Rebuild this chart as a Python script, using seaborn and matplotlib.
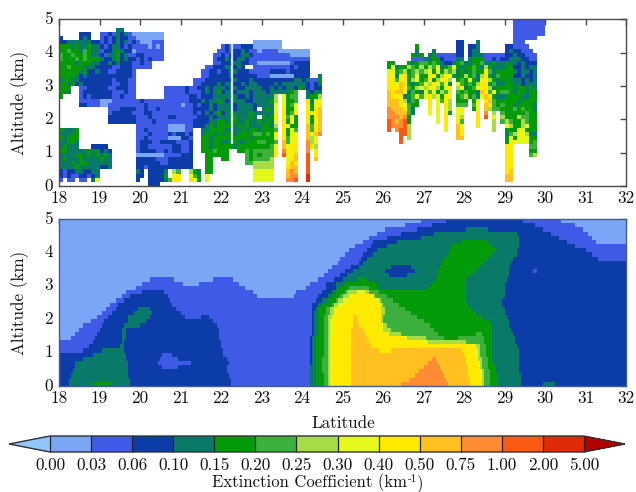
import numpy as np
import matplotlib
matplotlib.use("Agg")
import matplotlib.pyplot as plt
import seaborn as sns
from matplotlib.cm import ScalarMappable
from matplotlib.colorbar import Colorbar
from matplotlib.colors import BoundaryNorm, ListedColormap

# extinction bins, one letter per bin (a = 0.00-0.03 ... m = 2.00-5.00)
levels = [0.00, 0.03, 0.06, 0.10, 0.15, 0.20, 0.25, 0.30, 0.40, 0.50, 0.75, 1.00, 2.00, 5.00]
letters = "abcdefghijklm"
colours = ["#7BA6F6", "#3F5AE6", "#0C3CA8", "#0A7A68", "#049A0A", "#3CB03C", "#A6DC48",
           "#E4F81C", "#FFEA00", "#FFC020", "#FF8C34", "#F85A14", "#E02A08"]
under_colour = "#93C6F8"
over_colour = "#B00000"

lat_ticks = list(range(18, 33))
alt_ticks = [0, 1, 2, 3, 4, 5]
bar_labels = ["0.00", "0.03", "0.06", "0.10", "0.15", "0.20", "0.25", "0.30", "0.40", "0.50",
              "0.75", "1.00", "2.00", "5.00"]

# narrow missing column in the lidar curtain: latitude, lowest and highest altitude
gap_lat = 22.27
gap_alt = [1.25, 4.25]

# lidar curtain, 0.1 deg x 0.125 km, written from 5 km down, one word per degree
# 18.0 - 24.6
lidar_west = [
    ". . . . . . .",
    ". . . . . . .",
    ". ....dd . . . . .",
    ".....ccc bbcbdcdbaa aaaaaa . . . .",
    "c....cdc bcbcdccbba aaaaaa . . . .",
    "ccddddddcc bcbcdcdbcb aaabbb . ........aa aaaaa .",
    "eeededdedd cbcddcbcbb bbabab . bcbbbcccaa aaaaa .",
    "eefeedfedd bccdedccab bbbbbb .........b bcbccdcbba bbbbaaaaaa aa",
    "feefeefedd cbddecdbbc cbbbbb ........bb cbcccddcbb bbbbbbbaaa aa",
    "feeefefeee dccdecdccb cbcbbb ........bc cdccddcbbb bbbbbbbbbb bb",
    "eeeedeeedd ccdcdcccbb cbb ........bb cccddccbba aaaaaaabcc cc",
    "eefeeedddc cccbbcccbb bbb ......bbcc cddcdc..bb bbbbbbbcbc cc",
    "eeeeedeccd ccbbccccb. . .....bbccb ccddcccbbb bbccccbccc cc",
    "eeeedcdccc ccccccccb. . .....bbccc ccdccccccb bbaaaaaacc cc..d",
    "deeddccccc cccbcccbb. . ...bbbcccc cccdcccdcc ccccccccdd cdbbe",
    "eedecdcccc cccbbccbb. . ...bbccccd cddccdcddc cccdcddddd dcbcd",
    "eee..bbccc ccbbcccbb. ......bbbb bcbbccdcdd dcddccdddd ccdcdcddce dcbcc",
    "eed..bcccc cccbbbcbb. ......bbbb bcbbbcdcde cddcdddcdd dcdddddef. .dcdd",
    "e....bcbcc cccbbcbbb. ......bbbb bbccbcccdd ddddccdcdd dddg.heff. .deeg",
    ".....bbbbb aaabbbbbbb cbbbbbbbbb bbcccdcdde dcddddccdd ddeg.heef. .idhh",
    ".....ccbbb aabbbbbbbb bcbbbbbbbb abbcbccdcd dddcddddcd dddh.hefh. .iehi",
    ". ..bbbccccb bcbbcbbbbb bbbccccdcd dddcddddc dedh.ieeh. .ieij",
    ". ..bcccccbb bccbbbbbbb bbbcbcdcde cdeddddedd dddh.iefi. .ihij",
    ". ..cccccccb bbcbbbbccb bbbbcccdcd dddeddded edei.ifhe. .ieij",
    ". ..cccccccb bbbcbbbbbb bbbccccdde edeeddedde dedh.ieie. .iehj",
    ". .........b bbbbbbbaaa abbcccdede eeedededdd eedg.ihee. .jfij",
    "eddde .........b bcbbbbbaaa abb..ddeee eddddedeed eeef.iehf. .jfij",
    "dddee .........b bbcbbbbcbc cbc..deede deedeeeeff efei.iehh. .jhjk",
    "edeee .........b bcbbbbbaaa ccb..eedee eeeeeeedee eeeh.ifhi. .jgh",
    "ddeed .........b cccbbccccb bbc..eedee ddeeddeeef feef.jfhi. .kgh",
    "deddd...cc cc.......b ccbbbbbbcc bbc..eedee eeedeeeeee eefh.jhii. .kig",
    "eedddddede cdc......b ccccbbcbcc bbc..eeefe ee..eefeff fffi.kihi. .k.i",
    "ddddeedede ded......a aaaaaabbbb ccc...eeee ee....fefe fffi.lhij. .l.i",
    "dedddedddd edd......c ccccbbbccc ccc...ee.. ee....feff ffg...hij. .l.j",
    "dddedeeddd ddd......c cccccbbccc ccc...ee.. ......ffgg ggg...hji. .l",
    "ddddeddddd ccd......c cbcccccccc ccc...ee.. ........gg ggg...ijj. .l",
    "cbccddccdd .........d c.ccccd.gf ..ged.ee.. ........hh hhh...jkj. .l",
    "cbcbbccbcd .........c c.cccce.hi ..hfe.h... ........hh hhh...jkk. .m",
    "b.bb.bb.dh .........c ..ccccdfii ..ihe.h... ........hh hhh...kkl. .m",
    ". . ..ccc . . . .",
]

# 26.0 - 30.0
lidar_east = [
    ". . . ..bbbbbbbb",
    ". . . ..bbbbbbbb",
    ". . . ..bbbbbbbb",
    ". . . ..bbbbbbbb",
    ". . . ..bbbbbb",
    ". ........cc ...d ..bbb",
    "........e. ........cc .ccd ccbbbb",
    "........d. ..d.....cc .cdd cdccbbb",
    ".......ede .debbbbbcc .cdddbbbbb ccdccbbb",
    ".......bbb ddeecbbbdd .deeebbcbc cdddccbb",
    ".ee...edef fefedccdef ddeefddedd eddcdccc",
    ".ehdeegfeg egfhdefhed eefedgeddd eeccdcdd",
    ".hiefgefgf ghehegfgde defeeifdee eedcddcd",
    ".ihdhiefhe ehiegihede gefdgiedfe eeccdccd",
    ".iifiieghe fieghig.ef ehedhigede edddcdcd",
    ".iihjiedef hgihfhe.hf efegiiefdd eeddcddd",
    ".iiijhfegh gihgehi.gh defhiigdee eedeeded",
    ".jijjhdfed hfhegfh.fe feedjifhef fedeedee",
    ".jiiidefhf higheih.ef gefdhjiedd eeeeddee",
    ".jjjigdfe. .i.hfig.ee e.eh.ijfee eeedeeee",
    ".jjjihfee. .i.h.ig.ff f.fh.jifef eedeeeed",
    ".kjjjifd.. .h.i.hg.hi ..eh.jgffe eefefeed",
    ".kkjjjfd.. .h.h.ie.hh ...i.k.g.f eeeeefee",
    ".kkkjke... ...h.i..ig ...i.l.h.g eeegffee",
    ".lkjkle... ...h.i..if ...i...g.f gfeegfee",
    ".lkkklg... .....i..jh ...i...g.. hgeeghee",
    ".l.kllg... .....h..ji .......g.. eeehheee",
    "....llg... ........ji . dfghhgdd",
    "....l.g... ........jj . eheihhee",
    "....l . . eihhhhef",
    ". . . ii....ff",
    ". . . ii....ee",
    ". . . ii....fg",
    ". . . ii",
    ". . . ii",
    ". . . ii",
    ". . . ij",
    ". . . jj",
    ". . . jj",
    ". . . .",
]

# model field: 0.125 km rows from 5 km down, each run is bin letter + latitude where it ends
model_rows = [
    "a26.95 b27.55 c29.45 b30.42 a32",
    "a26.55 b27.2 c29.75 b30.75 a32",
    "a26.05 b26.85 c28.05 d28.6 c29.95 b30.95 a32",
    "a25.85 b26.45 c27.25 d29.3 c30.15 b31.05 a32",
    "a25.65 b26.1 c26.95 d29.37 c30.35 b31.15 a32",
    "a25.5 b25.76 c26.33 d27.95 e28.6 d29.37 c30.55 b31.27 a32",
    "a25.28 b25.7 c26.1 d27.72 e28.7 d29.35 c30.75 b32",
    "a25.15 b25.6 c25.85 d27.65 e28.82 d29.3 c30.98 b32",
    "a25.05 b25.5 c25.75 d27.58 e28.72 d29.28 c31.15 b32",
    "a24.95 b25.45 c25.6 d27.5 e28.6 d29.22 c31.3 b32",
    "a24.9 b25.38 c25.5 d27.44 e28.5 d29.17 c32",
    "a24.77 b25.2 c25.4 d26.2 c26.7 d27.4 e28.38 d29.12 c32",
    "a24.65 b25.07 c25.25 d26.05 c26.78 d27.37 e28.28 d29.1 c29.7 b29.8 c32",
    "a24.53 b24.93 c25.12 d26.15 c26.6 d27.33 e28.15 d29.08 c32",
    "a20.25 b20.85 a21.8 b22.3 a24.4 b24.78 c25.0 d25.35 e25.6 d27.28 e28.05 d29.05 c32",
    "a20.05 b21.05 a21.45 b22.45 a24.2 b24.6 c24.87 d25.05 e25.85 d27.22 e28.03 d29.02 c32",
    "a19.88 b22.6 a24.12 b24.6 c24.87 d24.95 e25.15 f25.65 e25.87 d27.1 e28.03 d29.0 c32",
    "a19.65 b20.05 c20.6 b22.8 a23.85 b24.5 c24.76 d24.86 e25.05 f25.1 g25.33 h25.55 g25.65 f25.9 e28.03 d29.0 c32",
    "a19.53 b19.75 c20.68 b22.9 a23.78 b24.42 c24.64 d24.75 e24.95 f25.0 g25.15 h25.27 i25.68 h25.75 g25.82 f26.1 e28.03 d28.98 c32",
    "a19.38 b19.62 c20.74 b24.35 c24.52 d24.63 e24.85 f24.9 g25.0 h25.1 i25.82 h25.88 g25.95 f26.27 e28.03 d28.97 c32",
    "a19.27 b19.45 c20.82 b24.25 c24.4 d24.5 e24.73 f24.78 g24.92 h25.0 i25.9 h25.93 g26.0 f26.42 e28.1 d28.97 c32",
    "a19.17 b19.38 c19.95 d20.27 c20.92 b24.25 c24.33 d24.42 e24.62 f24.72 g24.8 h24.9 i25.93 g26.05 f26.55 e28.2 d28.98 c32",
    "a19.07 b19.28 c19.85 d20.3 c21.0 b24.25 c24.3 d24.42 e24.6 f24.7 g24.78 h24.85 i25.94 g26.03 f26.68 e28.3 d29.02 c32",
    "a18.93 b19.18 c19.72 d20.25 c21.1 b21.5 c21.72 b24.25 c24.3 d24.4 e24.57 f24.67 g24.75 h24.82 i25.25 j25.33 i25.95 g26.02 f26.83 e28.45 d29.07 c32",
    "a18.78 b19.08 c19.68 d20.15 c21.78 b24.24 c24.28 d24.38 e24.55 f24.65 g24.72 h24.8 i25.25 j25.36 i25.93 g26.0 f26.98 e28.66 d29.1 c32",
    "a18.62 b19.03 c19.62 d19.98 c21.88 b24.24 c24.28 d24.38 e24.55 f24.65 g24.72 h24.8 i25.23 j25.42 i25.93 h26.0 g26.08 f27.13 e28.68 d29.12 c32",
    "a18.52 b18.99 c19.57 d19.66 c21.93 b24.24 c24.28 d24.38 e24.54 f24.65 g24.7 h24.78 i25.22 j25.48 i25.93 h26.02 g26.2 f27.25 e28.68 d29.16 c32",
    "a18.4 b18.95 c19.57 d19.63 c21.94 b24.24 c24.28 d24.38 e24.54 f24.65 g24.7 h24.78 i25.2 j25.55 i26.05 h26.17 g26.45 f27.37 e28.3 f28.47 e28.68 d29.2 c32",
    "a18.28 b18.9 c19.57 d19.63 c21.96 b24.22 c24.27 d24.37 e24.54 f24.65 g24.7 h24.76 i25.2 j25.62 i26.5 h26.58 g27.05 f27.5 e27.85 f28.5 e28.68 d29.23 c32",
    "b18.83 c19.55 d19.62 c21.98 b24.21 c24.26 d24.36 e24.53 f24.65 g24.7 h24.76 i25.2 j25.66 i26.95 h27.1 g28.05 f28.52 e28.68 d29.27 c32",
    "b18.75 c19.5 d19.6 c21.99 b24.2 c24.25 d24.36 e24.53 f24.65 g24.7 h24.76 i25.19 j25.7 i28.24 h28.3 g28.38 f28.54 e28.69 d29.3 c32",
    "b18.58 c19.05 d19.62 c22.03 b24.2 c24.25 d24.36 e24.53 f24.65 g24.7 h24.76 i25.19 j25.9 i26.2 j27.95 i28.28 h28.33 g28.4 f28.56 e28.7 d29.33 c32",
    "c18.85 d19.63 c20.55 b20.8 c22.07 b24.2 c24.25 d24.36 e24.53 f24.65 g24.7 h24.76 i25.19 j28.0 i28.3 h28.35 g28.42 f28.57 e28.71 d29.35 c32",
    "c18.6 d19.66 c20.48 b20.95 c22.15 b24.2 c24.24 d24.36 e24.52 f24.65 g24.7 h24.76 i25.19 j27.2 k27.28 j28.03 i28.33 h28.37 g28.44 f28.58 e28.72 d29.34 c32",
    "c18.42 d19.68 c20.45 b21.25 c22.2 b24.19 c24.23 d24.36 e24.52 f24.65 g24.7 h24.76 i25.19 j27.12 k27.35 j28.06 i28.36 h28.39 g28.45 f28.6 e28.76 d29.36 c32",
    "c18.38 d19.7 c20.55 b20.95 c22.14 b24.18 c24.22 d24.35 e24.52 f24.65 g24.7 h24.75 i25.19 j27.02 k27.38 j28.08 i28.38 h28.41 g28.47 f28.62 e28.8 d29.37 c32",
    "c18.34 d19.72 c22.16 b24.18 c24.22 d24.35 e24.52 f24.65 g24.7 h24.75 i25.19 j26.9 k27.45 j28.1 i28.4 h28.43 g28.49 f28.63 e28.82 d29.37 c32",
    "c18.3 d19.72 c22.2 b24.18 c24.22 d24.35 e24.53 f24.65 g24.7 h24.75 i25.19 j26.8 k27.5 j28.12 i28.42 h28.45 g28.5 f28.65 e28.84 d29.38 c32",
    "c18.27 d19.73 c22.24 b24.18 c24.22 d24.35 e24.53 f24.65 g24.7 h24.75 i25.19 j26.65 k27.55 j28.14 i28.43 h28.46 g28.51 f28.66 e28.85 d29.38 c32",
    "c18.23 d18.85 e19.28 d19.74 c22.27 b24.18 c24.22 d24.35 e24.53 f24.65 g24.7 h24.75 i25.19 j26.45 k27.6 j28.15 i28.44 h28.47 g28.52 f28.66 e28.86 d29.38 c29.95 d30.25 c32",
]

lat_start, lat_end = 18, 32
n_rows = 40
lidar_step = 0.1
model_step = 0.05
east_start = 26


def valor_bin(letra):
    i = letters.index(letra)
    return (levels[i] + levels[i + 1]) / 2


def cargar_bloque(filas, ancho_grupo=10):
    salida = []
    for fila in filas:
        celdas = "".join(g.ljust(ancho_grupo, ".") for g in fila.split())
        salida.append([np.nan if c == "." else valor_bin(c) for c in celdas])
    n = max(len(f) for f in salida)
    return np.array([f + [np.nan] * (n - len(f)) for f in salida])


def rejilla_lidar():
    n_cols = int(round((lat_end - lat_start) / lidar_step))
    grid = np.full((n_rows, n_cols), np.nan)
    west = cargar_bloque(lidar_west)
    east = cargar_bloque(lidar_east)
    grid[:, :west.shape[1]] = west
    c0 = int(round((east_start - lat_start) / lidar_step))
    grid[:, c0:c0 + east.shape[1]] = east
    return np.flipud(grid)


def rejilla_modelo():
    n_cols = int(round((lat_end - lat_start) / model_step))
    grid = np.zeros((n_rows, n_cols))
    centros = lat_start + (np.arange(n_cols) + 0.5) * model_step
    for r, fila in enumerate(model_rows):
        inicio = lat_start
        for run in fila.split():
            fin = float(run[1:])
            grid[r, (centros >= inicio) & (centros < fin)] = valor_bin(run[0])
            inicio = fin
    return np.flipud(grid)


def panel(ax, grid, step, cmap, norm, frame):
    sns.heatmap(grid, ax=ax, cmap=cmap, norm=norm, cbar=False, linewidths=0, rasterized=True)
    ax.invert_yaxis()
    for s in ax.spines.values():
        s.set_visible(True)
        s.set_linewidth(1.0)
        s.set_color(frame)
    ax.set_xticks([(v - lat_start) / step for v in lat_ticks])
    ax.set_xticklabels([str(v) for v in lat_ticks], rotation=0)
    ax.set_yticks([v * n_rows / 5 for v in alt_ticks])
    ax.set_yticklabels([str(v) for v in alt_ticks], rotation=0)
    ax.tick_params(direction="in", top=True, right=True, length=4, width=1.0, color=frame,
                   labelsize=12.3, labelcolor="#111111")
    ax.tick_params(axis="x", pad=3.5)
    ax.tick_params(axis="y", pad=4.5)
    ax.set_ylabel("Altitude (km)", fontsize=12.3, color="#111111")
    ax.yaxis.set_label_coords(-0.053, 0.5)


sns.set_style("white")
plt.rcParams["font.family"] = ["cmr10", "DejaVu Serif"]
plt.rcParams["axes.formatter.use_mathtext"] = True

cmap = ListedColormap(colours)
cmap.set_under(under_colour)
cmap.set_over(over_colour)
norm = BoundaryNorm(levels, len(colours))

W, H = 636, 492
fig = plt.figure(figsize=(W / 100, H / 100), dpi=100)
ax_top = fig.add_axes([59 / W, 1 - 186 / H, 567 / W, 166.5 / H])
ax_bot = fig.add_axes([59 / W, 1 - 386 / H, 567 / W, 167 / H])
cax = fig.add_axes([9 / W, 1 - 452 / H, 616 / W, 16 / H])

panel(ax_top, rejilla_lidar(), lidar_step, cmap, norm, "#4a4a4a")
panel(ax_bot, rejilla_modelo(), model_step, cmap, norm, "#3f5c94")
ax_top.vlines((gap_lat - lat_start) / lidar_step, gap_alt[0] * n_rows / 5, gap_alt[1] * n_rows / 5,
              color="#d6e2d2", linewidth=1.6)

cb = Colorbar(cax, ScalarMappable(norm=norm, cmap=cmap), orientation="horizontal", extend="both",
              extendfrac=0.077, spacing="uniform", ticks=levels, drawedges=True)
cb.ax.set_xticklabels(bar_labels)
cb.ax.tick_params(length=0, labelsize=12.3, pad=4, labelcolor="#111111")
cb.outline.set_linewidth(1.0)
cb.outline.set_edgecolor("#333333")
cb.dividers.set_color("#222222")
cb.dividers.set_linewidth(0.9)

fig.text(343 / W, 1 - 423 / H, "Latitude", ha="center", va="center", fontsize=12.3, color="#111111")

# the exponent sits in its own small text after the main part of the label
r = fig.canvas.get_renderer()
x_px = 212
t = fig.text(x_px / W, 1 - 487 / H, "Extinction Coefficient (km", va="baseline", fontsize=12, color="#111111")
x_px = t.get_window_extent(r).x1 + 0.5
t = fig.text(x_px / W, 1 - 482 / H, "-1", va="baseline", fontsize=8, color="#111111")
x_px = t.get_window_extent(r).x1 + 0.5
fig.text(x_px / W, 1 - 487 / H, ")", va="baseline", fontsize=12, color="#111111")

fig.savefig("out.png", dpi=100)
